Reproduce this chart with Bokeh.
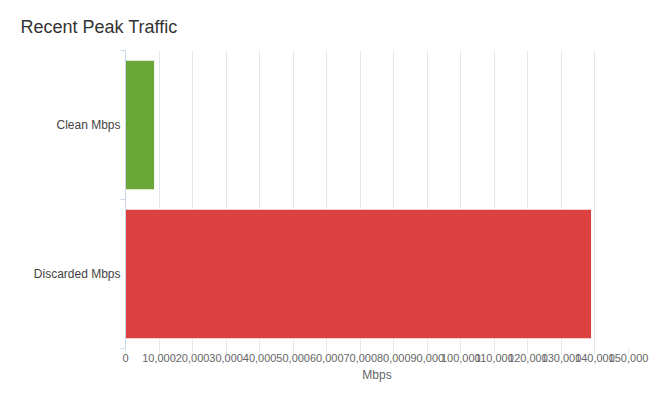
from bokeh.plotting import figure
from bokeh.models import Range1d, FixedTicker, NumeralTickFormatter, ColumnDataSource
from bokeh.embed import file_html
from bokeh.resources import INLINE

title_text = "Recent Peak Traffic"
categories = ["Clean Mbps", "Discarded Mbps"]
values = [8700, 139000]
colors = ["#6aa638", "#db4140"]
x_ticks = list(range(0, 150001, 10000))

n = len(categories)
ypos = [n - i - 0.5 for i in range(n)]

src = ColumnDataSource(dict(y=ypos, right=values, color=colors, cat=categories))

FONT = "Liberation Sans"

p = figure(width=650, height=393, output_backend="svg", toolbar_location=None,
           x_range=Range1d(0, 150000), y_range=Range1d(0, n),
           title=title_text,
           min_border_left=125, min_border_right=22, min_border_top=49, min_border_bottom=45)

p.hbar(y="y", right="right", left=0, height=0.87, color="color", line_color="white",
       line_width=1, source=src)

p.title.text_font = FONT
p.title.text_font_size = "18px"
p.title.text_font_style = "normal"
p.title.text_color = "#333333"
p.title.align = "left"
p.title.offset = -105
p.title.standoff = 28

# x axis
xa = p.xaxis[0]
xa.ticker = FixedTicker(ticks=x_ticks)
xa.formatter = NumeralTickFormatter(format="0,0")
xa.axis_line_color = None
xa.major_tick_line_color = "#e6e6e6"
xa.major_tick_out = 5
xa.major_tick_in = 0
xa.minor_tick_line_color = None
xa.major_label_text_font = FONT
xa.major_label_text_font_size = "11px"
xa.major_label_text_color = "#666666"
xa.major_label_standoff = 0
xa.axis_label = "Mbps"
xa.axis_label_text_font = FONT
xa.axis_label_text_font_size = "12px"
xa.axis_label_text_font_style = "normal"
xa.axis_label_text_color = "#666666"
xa.axis_label_standoff = 3

# y axis
ya = p.yaxis[0]
ya.ticker = FixedTicker(ticks=ypos, minor_ticks=list(range(0, n + 1)))
ya.major_label_overrides = {ypos[i]: categories[i] for i in range(n)}
ya.axis_line_color = "#ccd6eb"
ya.major_tick_line_color = None
ya.minor_tick_line_color = "#ccd6eb"
ya.minor_tick_out = 5
ya.minor_tick_in = 0
ya.major_label_text_font = FONT
ya.major_label_text_font_size = "12px"
ya.major_label_text_color = "#444444"
ya.major_label_standoff = -1

p.xgrid.grid_line_color = "#e6e6e6"
p.xgrid.ticker = FixedTicker(ticks=x_ticks)
p.ygrid.grid_line_color = None
p.outline_line_color = None

open("out.html", "w").write(file_html(p, INLINE))
